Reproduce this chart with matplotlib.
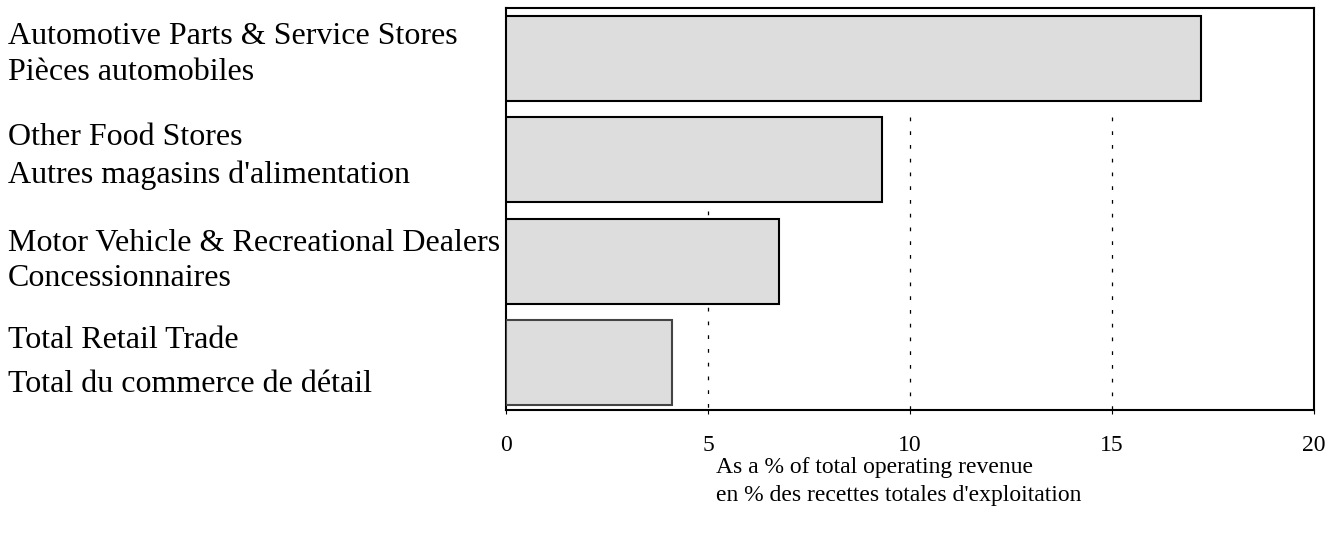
import matplotlib
matplotlib.use("Agg")
import matplotlib.pyplot as plt
import matplotlib.transforms as mtrans

plt.rcParams['font.family'] = ['Liberation Serif', 'DejaVu Serif']

# data (top to bottom)
labels_en = ["Automotive Parts & Service Stores", "Other Food Stores",
             "Motor Vehicle & Recreational Dealers", "Total Retail Trade"]
labels_fr = ["Pièces automobiles", "Autres magasins d'alimentation",
             "Concessionnaires", "Total du commerce de détail"]
values = [17.2, 9.3, 6.75, 4.1]
xticks = [0, 5, 10, 15, 20]

# label line offsets (data units, relative to bar centre)
off_top = [-0.22, -0.22, -0.17, -0.22]
off_bot = [0.14, 0.15, 0.17, 0.22]
# where the dotted gridlines begin (data units)
grid_start = [1.5, 0.58, 0.58]

fig = plt.figure(figsize=(13.35, 5.33), dpi=100)
ax = fig.add_axes([506/1335, 1-410/533, 808/1335, 402/533])

pos = list(range(len(values)))
edges = ['black', 'black', 'black', '#444444']
ax.barh(pos, values, height=0.84, color='#dddddd', edgecolor=edges,
        linewidth=1.5, zorder=3)

ymax = 3.47
ax.set_ylim(ymax, -0.5)
ax.set_xlim(0, 20)
ax.set_xticks(xticks)
ax.set_xticklabels([str(t) for t in xticks], fontsize=17)
ax.tick_params(axis='x', length=3, width=0.8, pad=15)
ax.set_yticks([])
for s in ax.spines.values():
    s.set_linewidth(1.5)

ax.vlines(xticks[1:-1], grid_start, ymax, colors='black',
          linestyles=[(0, (3, 8))], linewidth=0.9, zorder=1)

tr = mtrans.blended_transform_factory(fig.transFigure, ax.transData)
for i in pos:
    ax.text(8/1335, i + off_top[i], labels_en[i], transform=tr, fontsize=23,
            ha='left', va='center')
    ax.text(8/1335, i + off_bot[i], labels_fr[i], transform=tr, fontsize=23,
            ha='left', va='center')

fig.text(716/1335, 1-467/533, "As a % of total operating revenue",
         fontsize=17, ha='left', va='center')
fig.text(716/1335, 1-495/533, "en % des recettes totales d'exploitation",
         fontsize=17, ha='left', va='center')

fig.savefig("out.png", dpi=100)
